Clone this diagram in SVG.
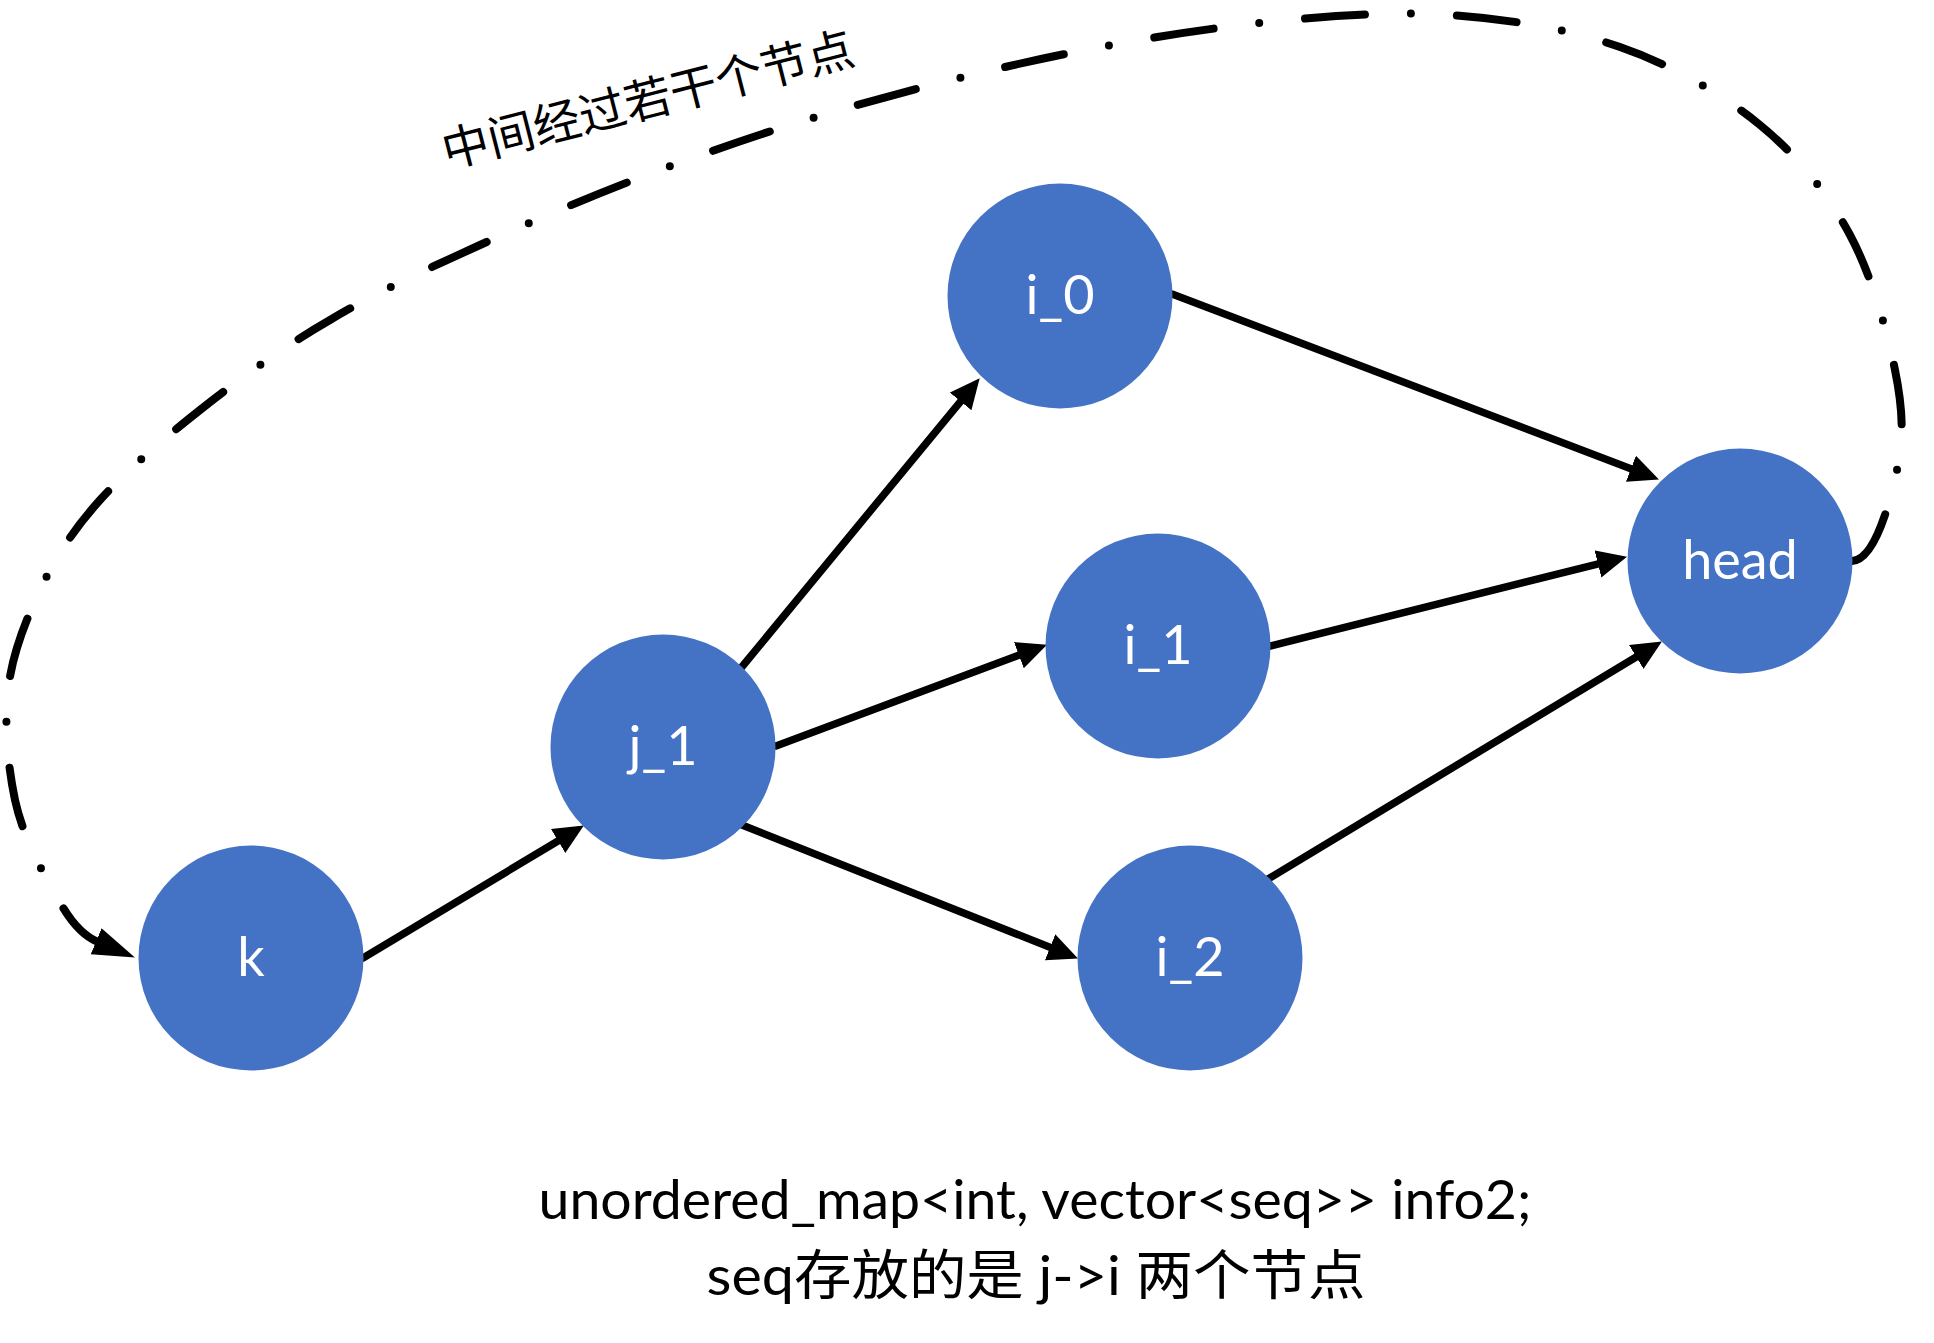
<svg xmlns="http://www.w3.org/2000/svg" width="1934" height="1343" viewBox="0 0 1934 1343">
<style>
.node circle { fill: #4472C4; }
.node text { fill: #ffffff; font-family: Lato, "Open Sans", "Liberation Sans", sans-serif; font-size: 54px; text-anchor: middle; }
.edge { stroke: #000; stroke-width: 7.5; fill: none; stroke-linecap: round; marker-end: url(#arrow); }
.loop { stroke: #000; stroke-width: 8; fill: none; stroke-linecap: round; stroke-dasharray: 60 46 0 46; marker-end: url(#arrowCurve); }
.label { fill: #000; font-family: Lato, "Liberation Sans", "Noto Sans CJK SC", sans-serif; font-size: 54px; text-anchor: middle; }
.cjk { fill: #000; font-family: "Noto Sans CJK SC", sans-serif; font-size: 47px; text-anchor: middle; }
</style>
<defs>
<marker id="arrow" markerUnits="userSpaceOnUse" markerWidth="34" markerHeight="30" refX="14" refY="14" orient="auto">
<path d="M0,0 L30,14 L0,28 Z" fill="#000"/>
</marker>
<marker id="arrowCurve" markerUnits="userSpaceOnUse" markerWidth="46" markerHeight="30" refX="2" refY="14" orient="auto">
<path d="M0,0 L42,14 L0,28 Z" fill="#000"/>
</marker>
</defs>
<rect width="1934" height="1343" fill="#ffffff"/>

<g id="connectors">
<line class="edge" x1="363" y1="958" x2="570.1" y2="833.7"/>
<line class="edge" x1="741" y1="668" x2="969.5" y2="390.6"/>
<line class="edge" x1="776" y1="746" x2="1032" y2="650.3"/>
<line class="edge" x1="742" y1="825" x2="1063.1" y2="952.5"/>
<line class="edge" x1="1172" y1="294" x2="1644" y2="473.7"/>
<line class="edge" x1="1270" y1="646" x2="1611.5" y2="560.6"/>
<line class="edge" x1="1268" y1="879" x2="1648.2" y2="649.7"/>
<path class="loop" d="M 1852 561 C 1875 560, 1890 502, 1897 470 C 1904 438, 1903 409, 1895 370 C 1887 331, 1872 276, 1850 235 C 1828 194, 1798 156, 1760 125 C 1722 94, 1672 65, 1620 47 C 1568 29, 1510 19, 1450 15 C 1390 11, 1325 16, 1260 23 C 1195 30, 1128 41, 1060 55 C 992 69, 917 88, 850 107 C 783 126, 722 147, 660 170 C 598 193, 535 220, 480 245 C 425 270, 377 292, 330 320 C 283 347, 238 380, 200 410 C 162 440, 127 470, 100 500 C 73 530, 55 558, 40 590 C 25 622, 12 655, 8 690 C 4 725, 8 767, 15 800 C 22 832, 37 862, 50 885 C 63 907, 74 932, 98 942"/>
</g>

<g id="node-k" class="node">
<circle cx="251" cy="958" r="112.5"/>
<text x="251" y="976">k</text>
</g>
<g id="node-j_1" class="node">
<circle cx="663" cy="747" r="112.5"/>
<text x="663" y="765">j_1</text>
</g>
<g id="node-i_0" class="node">
<circle cx="1060" cy="296" r="112.5"/>
<text x="1060" y="314">i_0</text>
</g>
<g id="node-i_1" class="node">
<circle cx="1158" cy="646" r="112.5"/>
<text x="1158" y="664">i_1</text>
</g>
<g id="node-i_2" class="node">
<circle cx="1190" cy="958" r="112.5"/>
<text x="1190" y="976">i_2</text>
</g>
<g id="node-head" class="node">
<circle cx="1740" cy="561" r="112.5"/>
<text x="1740" y="579">head</text>
</g>

<g id="loop-label">
<text class="cjk" x="652" y="116" transform="rotate(-14.3 652 116)">中间经过若干个节点</text>
</g>

<g id="caption">
<text class="label" x="1035" y="1219" textLength="993" lengthAdjust="spacingAndGlyphs">unordered_map&lt;int, vector&lt;seq&gt;&gt; info2;</text>
<text class="label" x="1036" y="1295" textLength="659" lengthAdjust="spacingAndGlyphs">seq存放的是 j-&gt;i 两个节点</text>
</g>
</svg>
